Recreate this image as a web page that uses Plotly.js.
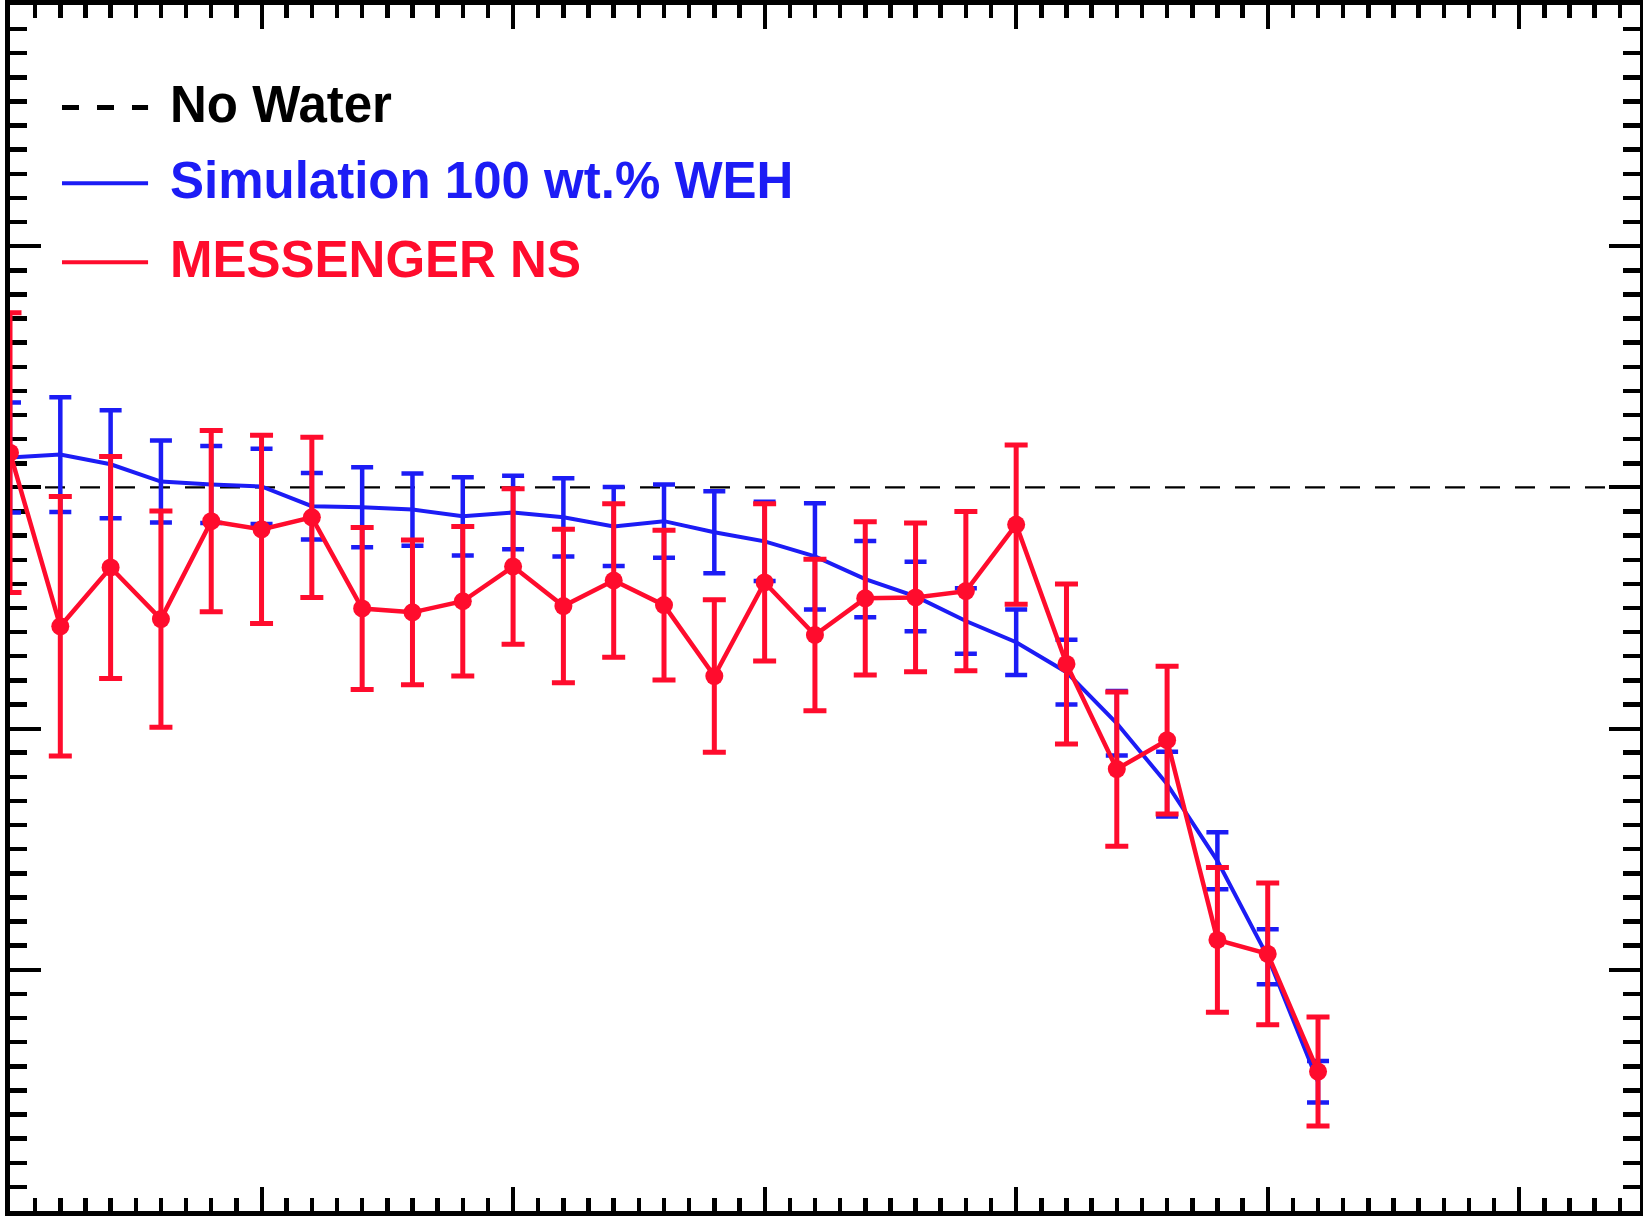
<!DOCTYPE html>
<html>
<head>
<meta charset="utf-8">
<script src="https://cdn.plot.ly/plotly-3.0.1.min.js"></script>
<style>
  html, body { margin: 0; padding: 0; background: #ffffff; }
  #chart { width: 1643px; height: 1218px; }
</style>
</head>
<body>
<div id="chart"></div>
<script>
// ---- data ----
const pointIndex = [0,1,2,3,4,5,6,7,8,9,10,11,12,13,14,15,16,17,18,19,20,21,22,23,24,25,26];

// Simulation 100 wt.% WEH (relative difference, %)
const simValues = [0.62,0.68,0.48,0.12,0.06,0.02,-0.39,-0.41,-0.46,-0.60,-0.52,-0.62,-0.81,-0.70,-0.93,-1.12,-1.43,-1.90,-2.26,-2.77,-3.21,-3.83,-4.89,-6.15,-7.74,-9.73,-12.32];
const simErrors = [1.14,1.19,1.12,0.85,0.80,0.78,0.69,0.83,0.75,0.81,0.76,0.81,0.82,0.76,0.85,0.82,1.10,0.79,0.72,0.68,0.68,0.67,0.67,0.67,0.59,0.57,0.43];

// MESSENGER NS
const nsValues = [0.72,-2.88,-1.66,-2.73,-0.70,-0.87,-0.62,-2.51,-2.59,-2.36,-1.64,-2.46,-1.93,-2.44,-3.91,-1.97,-3.06,-2.30,-2.28,-2.15,-0.77,-3.66,-5.84,-5.24,-9.38,-9.67,-12.11];
const nsErrors = [2.90,2.69,2.30,2.24,1.88,1.95,1.66,1.68,1.50,1.55,1.61,1.59,1.59,1.55,1.58,1.63,1.57,1.59,1.54,1.65,1.65,1.66,1.60,1.53,1.50,1.47,1.13];

// No Water reference level
const noWaterX = [0, 32.4];
const noWaterY = [0, 0];

// legend labels
const legendLabels = ["No Water", "Simulation 100 wt.% WEH", "MESSENGER NS"];

// ---- style ----
const BLUE = "rgb(28,28,245)";
const RED = "rgb(255,12,45)";
const BLACK = "#000000";

const traces = [
  {
    x: noWaterX, y: noWaterY, type: "scatter", mode: "lines",
    line: { color: BLACK, width: 2.2, dash: "20px,15px" },
    hoverinfo: "skip", showlegend: false
  },
  {
    x: pointIndex, y: simValues, type: "scatter", mode: "lines",
    line: { color: BLUE, width: 4 },
    error_y: { type: "data", array: simErrors, visible: true, color: BLUE, thickness: 4.5, width: 11 },
    showlegend: false
  },
  {
    x: pointIndex, y: nsValues, type: "scatter", mode: "lines+markers",
    line: { color: RED, width: 4.5 },
    marker: { color: RED, size: 18, symbol: "circle" },
    error_y: { type: "data", array: nsErrors, visible: true, color: RED, thickness: 5, width: 11.5 },
    showlegend: false
  }
];

// legend drawn in paper coordinates
const L = { x0: 0.0319, x1: 0.0847, xt: 0.0970, rows: [0.9151, 0.8521, 0.7866], textShift: 0.0025 };
const legendColors = [BLACK, BLUE, RED];
const legendDash = ["17px,18px", "solid", "solid"];
const legendWidth = [5, 4, 4];

const shapes = [];
const annotations = [];
for (let i = 0; i < 3; i++) {
  shapes.push({
    type: "line", xref: "paper", yref: "paper",
    x0: L.x0, x1: L.x1, y0: L.rows[i], y1: L.rows[i],
    line: { color: legendColors[i], width: legendWidth[i], dash: legendDash[i] }
  });
  annotations.push({
    xref: "paper", yref: "paper", x: L.xt, y: L.rows[i] + L.textShift,
    xanchor: "left", yanchor: "middle", showarrow: false,
    text: "<b>" + legendLabels[i] + "</b>",
    font: { family: "Liberation Sans, Arial, sans-serif", size: 51, color: legendColors[i] }
  });
}

const axisCommon = {
  showgrid: false, zeroline: false, showticklabels: false,
  showline: true, linecolor: BLACK, linewidth: 5, mirror: "allticks",
  ticks: "inside", tickcolor: BLACK, layer: "below traces"
};

const layout = {
  width: 1643, height: 1218,
  margin: { l: 10, r: 3, t: 5, b: 7, pad: 0 },
  paper_bgcolor: "#ffffff", plot_bgcolor: "#ffffff",
  showlegend: false,
  xaxis: Object.assign({}, axisCommon, {
    range: [0, 32.4], tick0: 0, dtick: 5, ticklen: 24, tickwidth: 4,
    minor: { ticks: "inside", dtick: 0.5, ticklen: 13, tickwidth: 4.5, tickcolor: BLACK, showgrid: false }
  }),
  yaxis: Object.assign({}, axisCommon, {
    range: [-15, 10], tick0: 0, dtick: 5, ticklen: 31, tickwidth: 4,
    minor: { ticks: "inside", dtick: 0.5, ticklen: 17, tickwidth: 4.5, tickcolor: BLACK, showgrid: false }
  }),
  shapes: shapes,
  annotations: annotations
};

Plotly.newPlot("chart", traces, layout, { staticPlot: true, displayModeBar: false });
</script>
</body>
</html>
